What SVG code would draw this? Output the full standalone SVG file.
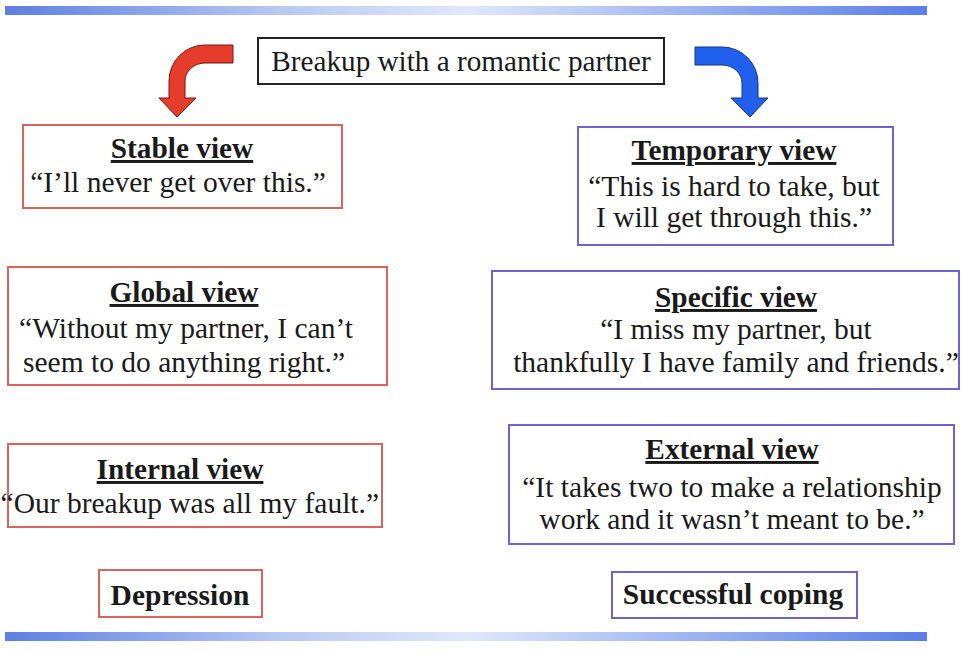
<svg xmlns="http://www.w3.org/2000/svg" width="964" height="652" viewBox="0 0 964 652">
<defs>
<linearGradient id="bar" x1="0" y1="0" x2="1" y2="0">
<stop offset="0" stop-color="#5d7fe0"/>
<stop offset="0.3" stop-color="#b9c9f3"/>
<stop offset="0.5" stop-color="#dfe7fb"/>
<stop offset="0.75" stop-color="#9cb3f0"/>
<stop offset="1" stop-color="#5a7ee8"/>
</linearGradient>
<style>
.rbox{fill:#fff;stroke:#d9635e;stroke-width:2}
.bbox{fill:#fff;stroke:#6c62d2;stroke-width:2}
.kbox{fill:#fff;stroke:#222;stroke-width:2}
text{font-family:"Liberation Serif","Times New Roman",serif;fill:#1a1a1a;text-anchor:middle}
.t{font-size:29.3px;font-weight:bold;text-decoration:underline}
.b{font-size:29.5px;font-weight:bold}
.q{font-size:29.5px}
.top{font-size:29.2px}
</style>
</defs>
<rect x="0" y="0" width="964" height="652" fill="#fff"/>
<rect x="5" y="6" width="922" height="9" fill="url(#bar)"/>
<rect x="5" y="632" width="922" height="9" fill="url(#bar)"/>

<g id="connectors">
<path d="M233,45 L205,45 A36,36 0 0 0 169,81 L169,98 L159,98 L177,117 L196,98 L185,98 L185,81 A20,18 0 0 1 205,63 L233,63 Z" fill="#e63c2c" stroke="#6e1a12" stroke-width="1"/>
<path d="M695,47 L722,47 A36,36 0 0 1 758,83 L758,98 L768,98 L750,117 L731,98 L742,98 L742,83 A20,18 0 0 0 722,65 L695,65 Z" fill="#2060ec" stroke="#15347e" stroke-width="1"/>
</g>

<g id="breakup">
<rect class="kbox" x="258" y="38" width="406" height="46"/>
<text class="top" x="461" y="71">Breakup with a romantic partner</text>
</g>

<g id="stable">
<rect class="rbox" x="23" y="125" width="319" height="83"/>
<text class="t" x="182" y="158">Stable view</text>
<text class="q" x="178" y="192">“I’ll never get over this.”</text>
</g>

<g id="global">
<rect class="rbox" x="8" y="267" width="379" height="118"/>
<text class="t" x="184" y="302">Global view</text>
<text class="q" x="186" y="338">“Without my partner, I can’t</text>
<text class="q" x="184" y="372">seem to do anything right.”</text>
</g>

<g id="internal">
<rect class="rbox" x="8" y="444" width="374" height="83"/>
<text class="t" x="180" y="479">Internal view</text>
<text class="q" x="379" y="513" style="text-anchor:end">“Our breakup was all my fault.”</text>
</g>

<g id="depression">
<rect class="rbox" x="99" y="570" width="163" height="47"/>
<text class="b" x="180" y="605">Depression</text>
</g>

<g id="temporary">
<rect class="bbox" x="578" y="127" width="315" height="118"/>
<text class="t" x="734" y="160">Temporary view</text>
<text class="q" x="734" y="196">“This is hard to take, but</text>
<text class="q" x="734" y="227">I will get through this.”</text>
</g>

<g id="specific">
<rect class="bbox" x="492" y="271" width="467" height="118"/>
<text class="t" x="736" y="307">Specific view</text>
<text class="q" x="736" y="339">“I miss my partner, but</text>
<text class="q" x="736" y="372">thankfully I have family and friends.”</text>
</g>

<g id="external">
<rect class="bbox" x="509" y="425" width="445" height="119"/>
<text class="t" x="732" y="459">External view</text>
<text class="q" x="732" y="497">“It takes two to make a relationship</text>
<text class="q" x="732" y="529">work and it wasn’t meant to be.”</text>
</g>

<g id="coping">
<rect class="bbox" x="612" y="572" width="245" height="46"/>
<text class="b" x="733" y="604">Successful coping</text>
</g>
</svg>
